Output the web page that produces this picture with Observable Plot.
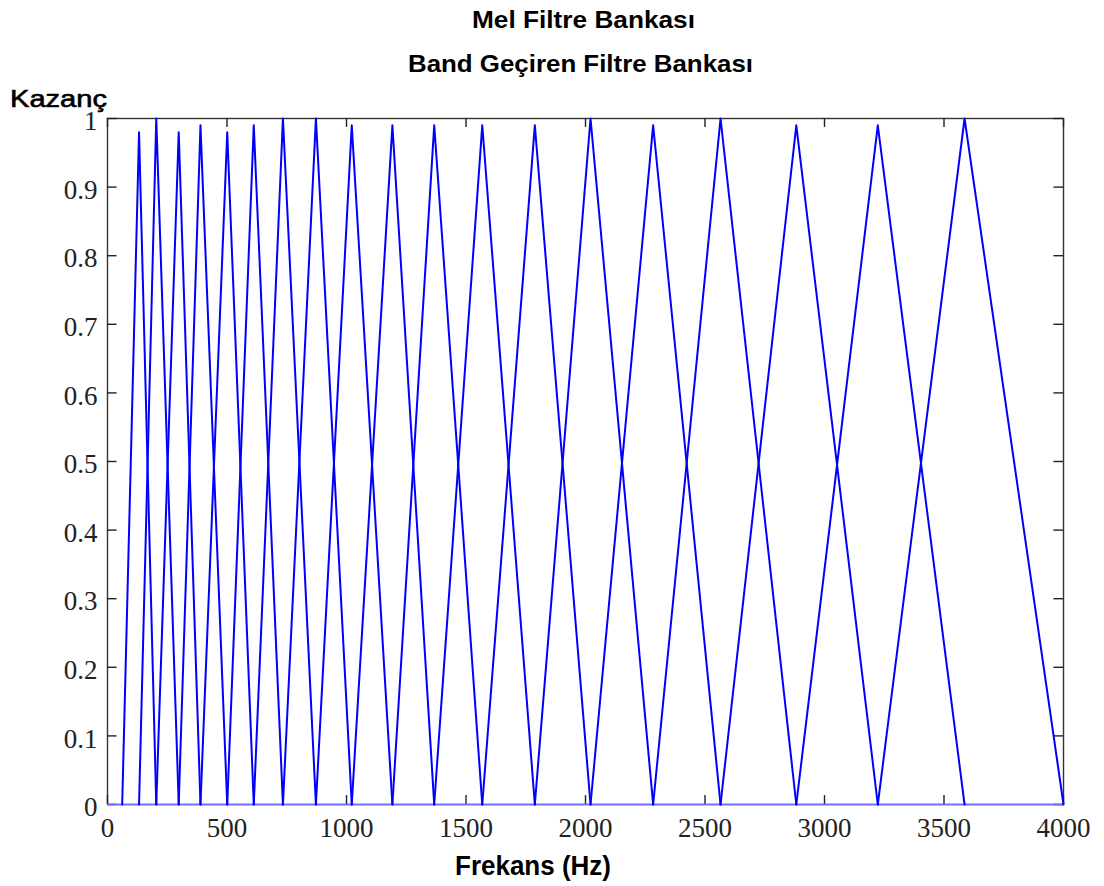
<!DOCTYPE html>
<html><head><meta charset="utf-8">
<script src="https://cdn.jsdelivr.net/npm/d3@7"></script>
<script src="https://cdn.jsdelivr.net/npm/@observablehq/plot@0.6"></script>
<style>body{margin:0;background:#fff} #chart{position:relative;width:1104px;height:886px}</style>
</head><body><div id="chart"></div>
<script>
// Filter boundary / centre frequencies (Hz)
const edgeFreqs = [61.5, 132, 204, 298, 389, 501, 612, 734, 872, 1022, 1192, 1367, 1568, 1788, 2021, 2283, 2565, 2882, 3223, 3586, 4000];
// Peak gain of each of the 19 filters
const peakGains = [0.98, 1.0, 0.98, 0.99, 0.98, 0.99, 1.0, 1.0, 0.99, 0.99, 0.99, 0.99, 0.99, 1.0, 0.99, 1.0, 0.99, 0.99, 1.0];
const xTicks = [0, 500, 1000, 1500, 2000, 2500, 3000, 3500, 4000];
const yTicks = [0, 0.1, 0.2, 0.3, 0.4, 0.5, 0.6, 0.7, 0.8, 0.9, 1];
const titleMain = "Mel Filtre Bankası";
const titleSub = "Band Geçiren Filtre Bankası";
const yLabel = "Kazanç";
const xLabel = "Frekans (Hz)";

const rows = [];
for (let k = 0; k < peakGains.length; k++) {
  rows.push({filter: k, f: edgeFreqs[k], g: 0});
  rows.push({filter: k, f: edgeFreqs[k + 1], g: peakGains[k]});
  rows.push({filter: k, f: edgeFreqs[k + 2], g: 0});
}

const tickFont = {fontFamily: "Liberation Serif", fontSize: 27, fill: "#222"};

const chart = Plot.plot({
  width: 1104, height: 886,
  marginTop: 118, marginLeft: 107, marginRight: 41, marginBottom: 82,
  x: {domain: [0, 4000], axis: null},
  y: {domain: [0, 1], axis: null},
  style: {background: "#fff"},
  marks: [
    Plot.frame({stroke: "#333", strokeWidth: 1.4}),
    Plot.ruleX(xTicks, {x: d => d, y1: 0, y2: 0.013, stroke: "#222", strokeWidth: 1.4}),
    Plot.ruleX(xTicks, {x: d => d, y1: 1, y2: 0.987, stroke: "#222", strokeWidth: 1.4}),
    Plot.ruleY(yTicks, {y: d => d, x1: 0, x2: 40, stroke: "#222", strokeWidth: 1.4}),
    Plot.ruleY(yTicks, {y: d => d, x1: 4000, x2: 3960, stroke: "#222", strokeWidth: 1.4}),
    Plot.ruleY([0], {stroke: "#6f6fff", strokeWidth: 1.6}),
    Plot.line(rows, {x: "f", y: "g", z: "filter", stroke: "#0000ff", strokeWidth: 2}),
    Plot.text(xTicks, {x: d => d, y: 0, dy: 24, text: d => String(d), ...tickFont}),
    Plot.text(yTicks, {x: 0, y: d => d, dx: -10, dy: 3, textAnchor: "end", text: d => String(d), ...tickFont})
  ]
});
document.getElementById("chart").appendChild(chart);

const svg = d3.select(chart);
function addText(str, x, y, width, size, weight, anchor, strokeW) {
  const t = svg.append("text")
    .attr("x", x).attr("y", y)
    .attr("text-anchor", anchor)
    .attr("font-family", "Liberation Sans, Arial, sans-serif")
    .attr("font-size", size)
    .attr("font-weight", weight)
    .attr("fill", "#000")
    .attr("textLength", width)
    .attr("lengthAdjust", "spacingAndGlyphs")
    .text(str);
  if (strokeW) t.attr("stroke", "#000").attr("stroke-width", strokeW);
}
addText(titleMain, 472, 28, 223, 24, "bold", "start");
addText(titleSub, 408, 72, 345, 24, "bold", "start");
addText(yLabel, 10, 107, 97, 23, "normal", "start", 0.6);
addText(xLabel, 455, 875, 156, 28, "bold", "start");
</script>
</body></html>
